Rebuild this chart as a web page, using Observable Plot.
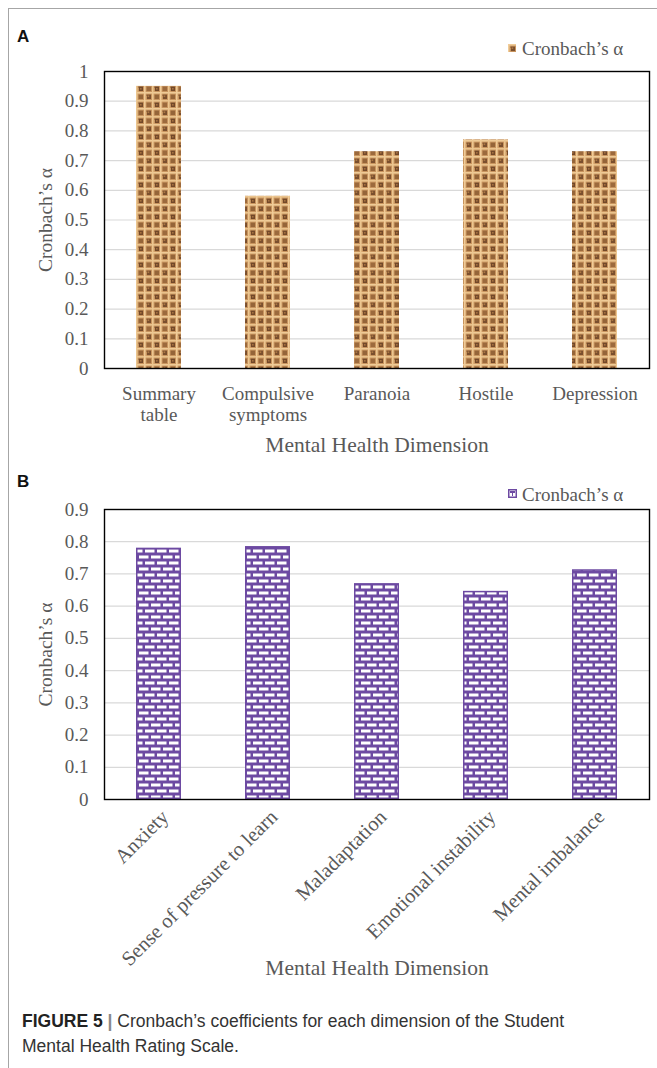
<!DOCTYPE html>
<html>
<head>
<meta charset="utf-8">
<script src="https://cdn.jsdelivr.net/npm/d3@7"></script>
<script src="https://cdn.jsdelivr.net/npm/@observablehq/plot@0.6"></script>
<style>
  html, body { margin: 0; padding: 0; background: #fff; }
  body { width: 657px; height: 1068px; position: relative; overflow: hidden; }
  .frame-left { position: absolute; left: 8px; top: 8px; width: 1px; height: 1060px; background: #a6a6a6; }
  .frame-top { position: absolute; left: 8px; top: 8px; width: 649px; height: 1px; background: #a6a6a6; }
  .panel-tag { position: absolute; font-family: "Liberation Sans", Arial, sans-serif; font-weight: bold; font-size: 17px; color: #111; }
  .legend { position: absolute; font-family: "Liberation Serif", serif; font-size: 19px; color: #595959; white-space: nowrap; line-height: 1; }
  .legend svg { position: absolute; left: -14px; }
  .chart { position: absolute; left: 0; }
  .caption { position: absolute; left: 22px; top: 1009px; width: 630px; font-family: "Liberation Sans", Arial, sans-serif; font-size: 17.5px; line-height: 25px; color: #333; white-space: nowrap; }
  .caption b { color: #222; }
  .caption .bar { color: #888; font-weight: bold; }
</style>
</head>
<body>
<svg width="0" height="0" style="position:absolute">
  <defs>
    <pattern id="burlap" width="16" height="16" patternUnits="userSpaceOnUse">
      <rect width="16" height="16" fill="#c8945e"/>
      <rect x="0" y="0" width="16" height="1.6" fill="#efcb97"/>
      <rect x="0" y="8" width="16" height="1.6" fill="#eac38c"/>
      <rect x="0" y="0" width="1.6" height="16" fill="#f1cc98"/>
      <rect x="8" y="0" width="1.6" height="16" fill="#ecc690"/>
      <rect x="2.6" y="2.6" width="4.4" height="4.4" fill="#7a4f2e"/>
      <rect x="10.6" y="2.6" width="4.4" height="4.4" fill="#956539"/>
      <rect x="2.6" y="10.6" width="4.4" height="4.4" fill="#9c6a3d"/>
      <rect x="10.6" y="10.6" width="4.4" height="4.4" fill="#724829"/>
      <rect x="3.6" y="3.4" width="1.6" height="1.6" fill="#ad7843"/>
      <rect x="12" y="12" width="1.6" height="1.6" fill="#a6713f"/>
      <rect x="1.6" y="4" width="1" height="4" fill="#dcaa70"/>
      <rect x="9.6" y="12" width="1" height="4" fill="#dcaa70"/>
    </pattern>
    <pattern id="brick" width="12" height="12" patternUnits="userSpaceOnUse">
      <rect width="12" height="12" fill="#6d4aa2"/>
      <rect x="1" y="1.5" width="9.5" height="3" fill="#fff"/>
      <rect x="-5" y="7.5" width="9.5" height="3" fill="#fff"/>
      <rect x="7" y="7.5" width="9.5" height="3" fill="#fff"/>
    </pattern>
  </defs>
</svg>

<div class="frame-left"></div>
<div class="frame-top"></div>

<div class="panel-tag" style="left:17px; top:27px;">A</div>
<div class="panel-tag" style="left:17px; top:472px;">B</div>

<div class="legend" style="left:522px; top:39px;">
  <svg width="8" height="8" style="top:5px"><rect width="8" height="8" fill="url(#burlap)"/></svg>Cronbach’s α
</div>
<div class="legend" style="left:522px; top:485px;">
  <svg width="9" height="9" style="top:4px"><rect x="0.75" y="0.75" width="7.5" height="7.5" fill="#fff" stroke="#6d4aa2" stroke-width="1.5"/><rect x="2" y="2" width="5" height="2" fill="#6d4aa2"/><rect x="4" y="4" width="1" height="3" fill="#6d4aa2"/></svg>Cronbach’s α
</div>

<div id="chartA" class="chart" style="top:60px;"></div>
<div id="chartB" class="chart" style="top:500px;"></div>

<div class="caption"><b>FIGURE 5</b>&nbsp;<span class="bar">|</span>&nbsp;Cronbach’s coefficients for each dimension of the Student<br>Mental Health Rating Scale.</div>

<script>
// ---- Data ----
const categoriesA = ["Summary\ntable", "Compulsive\nsymptoms", "Paranoia", "Hostile", "Depression"];
const valuesA = [0.95, 0.58, 0.73, 0.77, 0.73];
const yTicksA = [0, 0.1, 0.2, 0.3, 0.4, 0.5, 0.6, 0.7, 0.8, 0.9, 1];
const yTickLabelsA = ["0", "0.1", "0.2", "0.3", "0.4", "0.5", "0.6", "0.7", "0.8", "0.9", "1"];

const categoriesB = ["Anxiety", "Sense of pressure to learn", "Maladaptation", "Emotional instability", "Mental imbalance"];
const valuesB = [0.78, 0.785, 0.67, 0.646, 0.713];
const yTicksB = [0, 0.1, 0.2, 0.3, 0.4, 0.5, 0.6, 0.7, 0.8, 0.9];
const yTickLabelsB = ["0", "0.1", "0.2", "0.3", "0.4", "0.5", "0.6", "0.7", "0.8", "0.9"];

const xTitle = "Mental Health Dimension";
const yTitle = "Cronbach’s α";

const dataA = categoriesA.map((c, i) => ({category: c, value: valuesA[i]}));
const dataB = categoriesB.map((c, i) => ({category: c, value: valuesB[i]}));

const fmt = (ticks, labels) => d => labels[ticks.findIndex(t => Math.abs(t - d) < 1e-9)];

const baseStyle = {fontFamily: "'Liberation Serif', 'Times New Roman', serif", fontSize: "19px", color: "#595959", background: "transparent", overflow: "visible"};

const chartA = Plot.plot({
  width: 657,
  height: 400,
  marginLeft: 104,
  marginRight: 8,
  marginTop: 11,
  marginBottom: 92,
  style: baseStyle,
  x: {domain: categoriesA, paddingInner: 0.59, paddingOuter: 0.295},
  y: {domain: [0, 1]},
  marks: [
    Plot.gridY(yTicksA, {stroke: "#d9d9d9", strokeOpacity: 1, strokeWidth: 1.2}),
    Plot.barY(dataA, {x: "category", y: "value", fill: "url(#burlap)"}),
    Plot.frame({stroke: "#000", strokeWidth: 1.4}),
    Plot.axisY(yTicksA, {tickSize: 0, tickPadding: 16, tickFormat: fmt(yTicksA, yTickLabelsA), label: null, fill: "#595959"}),
    Plot.axisX({tickSize: 0, tickPadding: 17, lineHeight: 1.1, label: null, fill: "#595959"}),
    Plot.text([xTitle], {frameAnchor: "bottom", dy: 77, fontSize: 21.5, fill: "#595959", lineAnchor: "middle"}),
    Plot.text([yTitle], {frameAnchor: "left", dx: -59, rotate: -90, textAnchor: "middle", fontSize: 19.5, fill: "#595959", lineAnchor: "middle"})
  ]
});
document.getElementById("chartA").appendChild(chartA);

const chartB = Plot.plot({
  width: 657,
  height: 500,
  marginLeft: 104,
  marginRight: 8,
  marginTop: 9,
  marginBottom: 201,
  style: baseStyle,
  x: {domain: categoriesB, paddingInner: 0.59, paddingOuter: 0.295},
  y: {domain: [0, 0.9]},
  marks: [
    Plot.gridY(yTicksB, {stroke: "#d9d9d9", strokeOpacity: 1, strokeWidth: 1.2}),
    Plot.barY(dataB, {x: "category", y: "value", fill: "url(#brick)", stroke: "#6d4aa2", strokeWidth: 1.5, inset: 0.75}),
    Plot.frame({stroke: "#000", strokeWidth: 1.4}),
    Plot.axisY(yTicksB, {tickSize: 0, tickPadding: 16, tickFormat: fmt(yTicksB, yTickLabelsB), label: null, fill: "#595959"}),
    Plot.axisX({tickSize: 0, tickPadding: 14, tickRotate: -45, dx: 6, fontSize: 20.5, label: null, fill: "#595959"}),
    Plot.text([xTitle], {frameAnchor: "bottom", dy: 169, fontSize: 21.5, fill: "#595959", lineAnchor: "middle"}),
    Plot.text([yTitle], {frameAnchor: "left", dx: -59, rotate: -90, textAnchor: "middle", fontSize: 19.5, fill: "#595959", lineAnchor: "middle"})
  ]
});
document.getElementById("chartB").appendChild(chartB);
</script>
</body>
</html>
